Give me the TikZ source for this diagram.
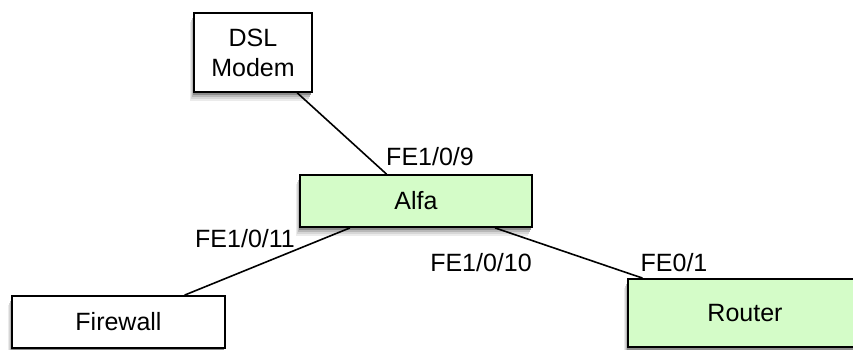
\documentclass[tikz,border=0pt]{standalone}
\usepackage{fontspec}
\setmainfont{Liberation Sans}

\definecolor{devgreen}{RGB}{212,252,200}

\tikzset{
    device/.style={draw=black, line width=1.8pt, fill=white, align=center, inner sep=0pt},
    greendev/.style={device, fill=devgreen},
    link/.style={draw=black, line width=1.6pt},
    port/.style={inner sep=0pt}
}

% 그림자: 중심 x, 중심 y, 너비, 높이
\newcommand{\devshadow}[4]{%
    \foreach \s/\g in {9/8, 7/16, 5/28, 3/45}
        \fill[black!\g] (#1-#3/2-\s/2, #2-#4/2-\s) rectangle (#1+#3/2-\s/2, #2+#4/2-\s);
}

\begin{document}
\begin{tikzpicture}[x=1pt, y=1pt, font=\fontsize{25}{30}\selectfont]
    \useasboundingbox (0,0) rectangle (853,349);

    % 그림자
    \devshadow{253}{296.5}{118}{79}
    \devshadow{416}{148}{232}{52}
    \devshadow{118.5}{27}{213}{52}
    \devshadow{745}{36}{234}{68}

    % --- 장비 ---
    \node[device, minimum width=118pt, minimum height=79pt] (dsl) at (253,296.5) {DSL\\Modem};
    \node[greendev, minimum width=232pt, minimum height=52pt] (alfa) at (416,148) {Alfa};
    \node[device, minimum width=213pt, minimum height=52pt] (firewall) at (118.5,27) {Firewall};
    \node[greendev, minimum width=234pt, minimum height=68pt] (router) at (745,36) {Router};

    % --- 연결 ---
    \draw[link] (dsl) -- (alfa);
    \draw[link] (firewall) -- (alfa);
    \draw[link] (alfa) -- (router);

    % --- 포트 라벨 ---
    \node[port] (p9) at (430,192) {FE1/0/9};
    \node[port] (p11) at (245,110) {FE1/0/11};
    \node[port] (p10) at (481,86) {FE1/0/10};
    \node[port] (p01) at (674,86) {FE0/1};
\end{tikzpicture}
\end{document}
